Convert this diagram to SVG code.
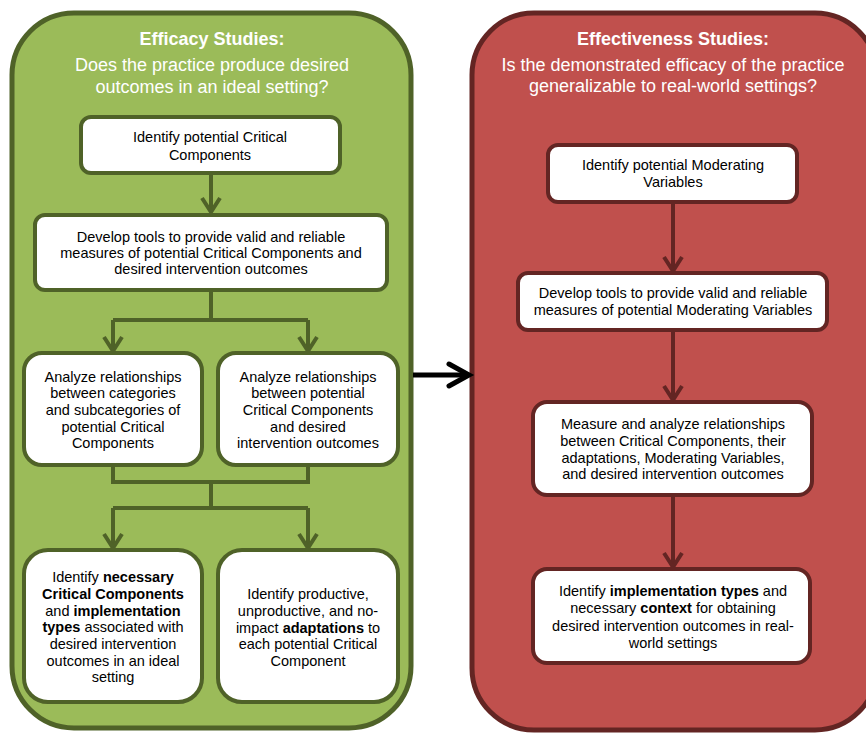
<svg xmlns="http://www.w3.org/2000/svg" width="866" height="734" viewBox="0 0 866 734">
<defs>
<style>
.gpanel{fill:#9bbb59;stroke:#4f6228;stroke-width:5}
.rpanel{fill:#c0504d;stroke:#632523;stroke-width:5}
.gbox{fill:#fff;stroke:#4f6228;stroke-width:4}
.rbox{fill:#fff;stroke:#632523;stroke-width:4}
.t{font-family:"Liberation Sans",Arial,sans-serif;font-size:14.5px;fill:#000;text-anchor:middle}
.b{font-weight:bold}
.title{font-family:"Liberation Sans",Arial,sans-serif;font-size:18px;font-weight:bold;fill:#fff;text-anchor:middle}
.sub{font-family:"Liberation Sans",Arial,sans-serif;font-size:18px;fill:#fff;text-anchor:middle}
.gc{fill:none;stroke:#4f6228;stroke-width:4}
.rc{fill:none;stroke:#632523;stroke-width:4}
.kc{fill:none;stroke:#000;stroke-width:5}
</style>
<marker id="ag" markerUnits="userSpaceOnUse" markerWidth="24" markerHeight="24" refX="14" refY="10" orient="auto" overflow="visible">
<path d="M0,1 L14,10 L0,19" fill="none" stroke="#4f6228" stroke-width="4"/>
</marker>
<marker id="ar" markerUnits="userSpaceOnUse" markerWidth="24" markerHeight="24" refX="14" refY="10" orient="auto" overflow="visible">
<path d="M0,1 L14,10 L0,19" fill="none" stroke="#632523" stroke-width="4"/>
</marker>
<marker id="ak" markerUnits="userSpaceOnUse" markerWidth="30" markerHeight="30" refX="20" refY="12" orient="auto" overflow="visible">
<path d="M0,1 L20,12 L0,23" fill="none" stroke="#000" stroke-width="5" stroke-linecap="round"/>
</marker>
</defs>

<g id="efficacy-panel">
<rect class="gpanel" x="12" y="13" width="399" height="715" rx="62"/>
<text class="title" x="212" y="45">Efficacy Studies:</text>
<text class="sub" x="212" y="71">Does the practice produce desired</text>
<text class="sub" x="212" y="93">outcomes in an ideal setting?</text>
</g>

<g id="effectiveness-panel">
<rect class="rpanel" x="472" y="13" width="405" height="717" rx="62"/>
<text class="title" x="673" y="45">Effectiveness Studies:</text>
<text class="sub" x="673" y="71">Is the demonstrated efficacy of the practice</text>
<text class="sub" x="673" y="92">generalizable to real-world settings?</text>
</g>

<g id="connectors">
<path class="gc" d="M211,173 V212" marker-end="url(#ag)"/>
<path class="gc" d="M211,290 V320 M113,320 H308"/>
<path class="gc" d="M113,320 V351" marker-end="url(#ag)"/>
<path class="gc" d="M308,320 V351" marker-end="url(#ag)"/>
<path class="gc" d="M113,465 V482 M308,465 V482 M111,482 H310 M211,482 V508 M113,508 H308"/>
<path class="gc" d="M113,508 V548" marker-end="url(#ag)"/>
<path class="gc" d="M308,508 V548" marker-end="url(#ag)"/>
<path class="kc" d="M413,375 H469" marker-end="url(#ak)"/>
<path class="rc" d="M673,202 V271" marker-end="url(#ar)"/>
<path class="rc" d="M673,330 V400" marker-end="url(#ar)"/>
<path class="rc" d="M673,495 V567" marker-end="url(#ar)"/>
</g>

<g id="g1">
<rect class="gbox" x="81" y="117" width="259" height="56" rx="10"/>
<text class="t" x="210" y="142">Identify potential Critical</text>
<text class="t" x="210" y="160">Components</text>
</g>

<g id="g2">
<rect class="gbox" x="35" y="215" width="352" height="75" rx="10"/>
<text class="t" x="211" y="242">Develop tools to provide valid and reliable</text>
<text class="t" x="211" y="258">measures of potential Critical Components and</text>
<text class="t" x="211" y="274">desired intervention outcomes</text>
</g>

<g id="g3a">
<rect class="gbox" x="24" y="353" width="178" height="112" rx="18"/>
<text class="t" x="113" y="382">Analyze relationships</text>
<text class="t" x="113" y="398">between categories</text>
<text class="t" x="113" y="415">and subcategories of</text>
<text class="t" x="113" y="432">potential Critical</text>
<text class="t" x="113" y="448">Components</text>
</g>

<g id="g3b">
<rect class="gbox" x="218" y="353" width="180" height="112" rx="18"/>
<text class="t" x="308" y="382">Analyze relationships</text>
<text class="t" x="308" y="398">between potential</text>
<text class="t" x="308" y="415">Critical Components</text>
<text class="t" x="308" y="432">and desired</text>
<text class="t" x="308" y="448">intervention outcomes</text>
</g>

<g id="g4a">
<rect class="gbox" x="24" y="550" width="178" height="152" rx="24"/>
<text class="t" x="113" y="582">Identify <tspan class="b">necessary</tspan></text>
<text class="t b" x="113" y="599">Critical Components</text>
<text class="t" x="113" y="616">and <tspan class="b">implementation</tspan></text>
<text class="t" x="113" y="632"><tspan class="b">types</tspan> associated with</text>
<text class="t" x="113" y="649">desired intervention</text>
<text class="t" x="113" y="666">outcomes in an ideal</text>
<text class="t" x="113" y="682">setting</text>
</g>

<g id="g4b">
<rect class="gbox" x="218" y="550" width="180" height="152" rx="24"/>
<text class="t" x="308" y="599">Identify productive,</text>
<text class="t" x="308" y="616">unproductive, and no-</text>
<text class="t" x="308" y="633">impact <tspan class="b">adaptations</tspan> to</text>
<text class="t" x="308" y="649">each potential Critical</text>
<text class="t" x="308" y="666">Component</text>
</g>

<g id="r1">
<rect class="rbox" x="548" y="145" width="249" height="57" rx="10"/>
<text class="t" x="673" y="170">Identify potential Moderating</text>
<text class="t" x="673" y="187">Variables</text>
</g>

<g id="r2">
<rect class="rbox" x="518" y="273" width="309" height="57" rx="10"/>
<text class="t" x="673" y="298">Develop tools to provide valid and reliable</text>
<text class="t" x="673" y="315">measures of potential Moderating Variables</text>
</g>

<g id="r3">
<rect class="rbox" x="533" y="402" width="279" height="93" rx="14"/>
<text class="t" x="673" y="429">Measure and analyze relationships</text>
<text class="t" x="673" y="446">between Critical Components, their</text>
<text class="t" x="673" y="463">adaptations, Moderating Variables,</text>
<text class="t" x="673" y="479">and desired intervention outcomes</text>
</g>

<g id="r4">
<rect class="rbox" x="533" y="569" width="277" height="94" rx="14"/>
<text class="t" x="673" y="596">Identify <tspan class="b">implementation types</tspan> and</text>
<text class="t" x="673" y="613">necessary <tspan class="b">context</tspan> for obtaining</text>
<text class="t" x="673" y="631">desired intervention outcomes in real-</text>
<text class="t" x="673" y="648">world settings</text>
</g>
</svg>
